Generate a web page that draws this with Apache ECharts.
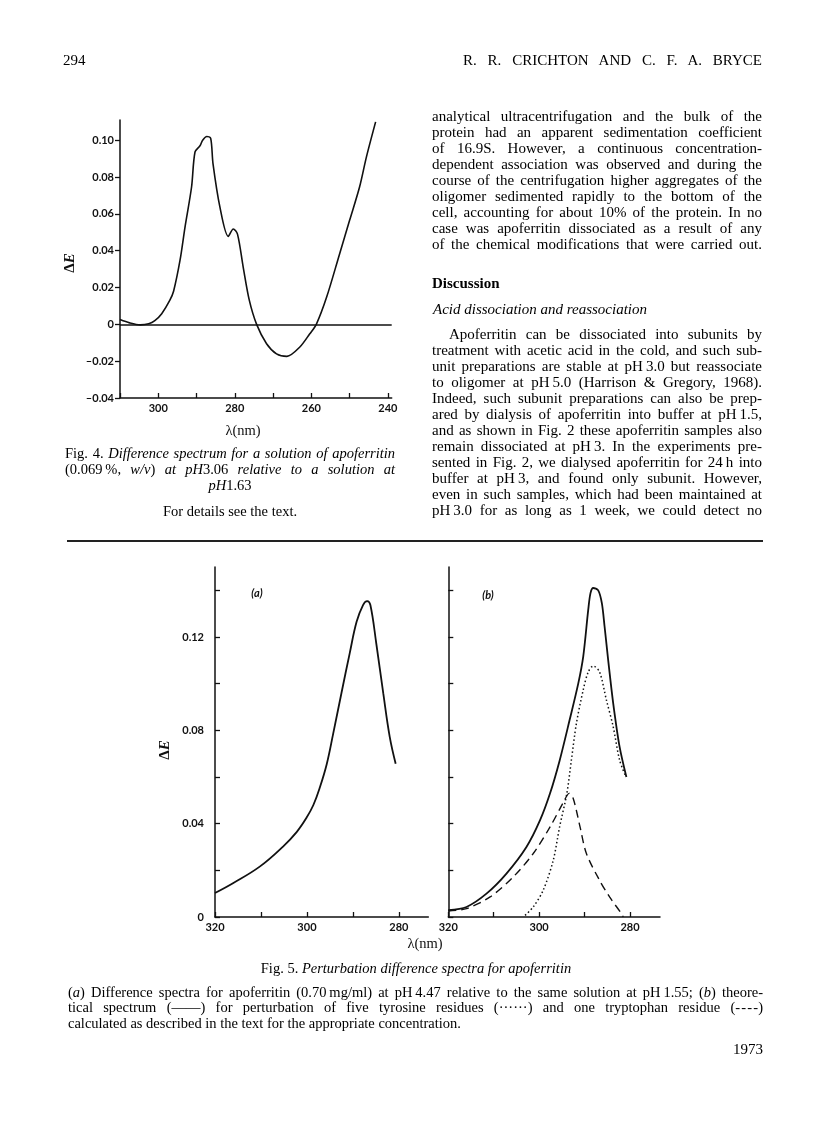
<!DOCTYPE html>
<html>
<head>
<meta charset="utf-8">
<script src="https://cdn.jsdelivr.net/npm/echarts/dist/echarts.min.js"></script>
<style>
  html, body { margin: 0; padding: 0; background: #fff; }
  #page { position: relative; width: 816px; height: 1136px; overflow: hidden; }
  #chart { position: absolute; left: 0; top: 0; width: 816px; height: 1136px; }
  .ln { position: absolute; font-family: "Liberation Serif", serif; font-size: 15px; line-height: 16px; height: 16px; color: #000; z-index: 2; }
  .j { text-align: justify; text-align-last: justify; }
  .c { text-align: center; }
  .cap { font-size: 14.5px; }
  .small { font-size: 14.5px; line-height: 15.5px; height: 15.5px; }
  i { font-style: italic; }
  #rule { position: absolute; left: 67px; top: 540px; width: 696px; height: 1.5px; background: #222; z-index: 2; }
</style>
</head>
<body>
<div id="page">
  <div id="chart"></div>

  <div class="ln" style="left:63px;top:52px">294</div>
  <div class="ln j" style="left:463px;top:52px;width:299px">R. R. CRICHTON AND C. F. A. BRYCE</div>

  <!-- right column, first paragraph -->
  <div class="ln j" style="left:432px;top:107.5px;width:330px">analytical ultracentrifugation and the bulk of the</div>
  <div class="ln j" style="left:432px;top:123.5px;width:330px">protein had an apparent sedimentation coefficient</div>
  <div class="ln j" style="left:432px;top:139.5px;width:330px">of 16.9S. However, a continuous concentration-</div>
  <div class="ln j" style="left:432px;top:155.5px;width:330px">dependent association was observed and during the</div>
  <div class="ln j" style="left:432px;top:171.5px;width:330px">course of the centrifugation higher aggregates of the</div>
  <div class="ln j" style="left:432px;top:187.5px;width:330px">oligomer sedimented rapidly to the bottom of the</div>
  <div class="ln j" style="left:432px;top:203.5px;width:330px">cell, accounting for about 10% of the protein. In no</div>
  <div class="ln j" style="left:432px;top:219.5px;width:330px">case was apoferritin dissociated as a result of any</div>
  <div class="ln j" style="left:432px;top:235.5px;width:330px">of the chemical modifications that were carried out.</div>

  <div class="ln" style="left:432px;top:275px;font-weight:bold">Discussion</div>
  <div class="ln" style="left:433px;top:301px"><i>Acid dissociation and reassociation</i></div>

  <div class="ln j" style="left:449px;top:326px;width:313px">Apoferritin can be dissociated into subunits by</div>
  <div class="ln j" style="left:432px;top:342px;width:330px">treatment with acetic acid in the cold, and such sub-</div>
  <div class="ln j" style="left:432px;top:358px;width:330px">unit preparations are stable at pH&#8201;3.0 but reassociate</div>
  <div class="ln j" style="left:432px;top:374px;width:330px">to oligomer at pH&#8201;5.0 (Harrison &amp; Gregory, 1968).</div>
  <div class="ln j" style="left:432px;top:390px;width:330px">Indeed, such subunit preparations can also be prep-</div>
  <div class="ln j" style="left:432px;top:406px;width:330px">ared by dialysis of apoferritin into buffer at pH&#8201;1.5,</div>
  <div class="ln j" style="left:432px;top:422px;width:330px">and as shown in Fig. 2 these apoferritin samples also</div>
  <div class="ln j" style="left:432px;top:438px;width:330px">remain dissociated at pH&#8201;3. In the experiments pre-</div>
  <div class="ln j" style="left:432px;top:454px;width:330px">sented in Fig. 2, we dialysed apoferritin for 24&#8201;h into</div>
  <div class="ln j" style="left:432px;top:470px;width:330px">buffer at pH&#8201;3, and found only subunit. However,</div>
  <div class="ln j" style="left:432px;top:486px;width:330px">even in such samples, which had been maintained at</div>
  <div class="ln j" style="left:432px;top:502px;width:330px">pH&#8201;3.0 for as long as 1 week, we could detect no</div>

  <!-- Fig. 4 caption -->
  <div class="ln j cap" style="left:65px;top:445px;width:330px">Fig. 4. <i>Difference spectrum for a solution of apoferritin</i></div>
  <div class="ln j cap" style="left:65px;top:461px;width:330px">(0.069&#8201;%, <i>w/v</i>) <i>at pH</i>3.06 <i>relative to a solution at</i></div>
  <div class="ln c cap" style="left:65px;top:477px;width:330px"><i>pH</i>1.63</div>
  <div class="ln c cap" style="left:65px;top:502.5px;width:330px">For details see the text.</div>

  <div id="rule"></div>

  <!-- Fig. 5 caption -->
  <div class="ln c cap" style="left:66px;top:959.5px;width:700px">Fig. 5. <i>Perturbation difference spectra for apoferritin</i></div>
  <div class="ln j small" style="left:68px;top:984.5px;width:695px">(<i>a</i>) Difference spectra for apoferritin (0.70&#8201;mg/ml) at pH&#8201;4.47 relative to the same solution at pH&#8201;1.55; (<i>b</i>) theore-</div>
  <div class="ln j small" style="left:68px;top:1000px;width:695px">tical spectrum (&#8212;&#8212;) for perturbation of five tyrosine residues (&#183;&#183;&#183;&#183;&#183;&#183;) and one tryptophan residue (-&#8202;-&#8202;-&#8202;-)</div>
  <div class="ln small" style="left:68px;top:1015.5px;width:695px">calculated as described in the text for the appropriate concentration.</div>

  <div class="ln" style="left:663px;top:1041px;width:100px;text-align:right">1973</div>
</div>

<script>
// Fig. 4: difference spectrum pH 3.06 vs pH 1.63
var fig4Wavelength = [310, 307.5, 304.7, 302.5, 300.9, 299.1, 297, 296, 294.3, 293, 291.3, 290.4, 289.1, 288.4, 287.3, 286.3, 285.7, 283.9, 281.7, 280.4, 279.3, 277.8, 276.2, 274.3, 271.7, 269.1, 266.4, 263, 260.4, 258.7, 256, 252.6, 250, 247.4, 245.6, 243.2]
var fig4DeltaE = [0.0026, 0.0008, -0.0003, 0.0003, 0.002, 0.0058, 0.013, 0.018, 0.035, 0.053, 0.0746, 0.0936, 0.097, 0.1, 0.102, 0.101, 0.0873, 0.0638, 0.0478, 0.0518, 0.049, 0.031, 0.013, 0, -0.0105, -0.016, -0.0174, -0.0123, -0.0051, 0, 0.0148, 0.0384, 0.0565, 0.0746, 0.091, 0.11]

// Fig. 5(a): measured spectrum
var fig5aWavelength = [320, 316, 310.2, 305.2, 302.2, 300.1, 298.6, 297.2, 295.7, 294.3, 292.5, 290.7, 289.2, 287.8, 286.9, 286.2, 284.9, 283.4, 282, 280.7]
var fig5aDeltaE = [0.0103, 0.0146, 0.0217, 0.0302, 0.0365, 0.0425, 0.048, 0.0555, 0.0655, 0.0785, 0.0959, 0.113, 0.1265, 0.1337, 0.1354, 0.1337, 0.117, 0.0959, 0.0773, 0.0657]

// Fig. 5(b): theoretical total, tyrosine (dotted), tryptophan (dashed)
var fig5bTotalWavelength = [320, 316, 311.6, 307.2, 302.8, 299.8, 297.6, 295.5, 293.3, 291.4, 290.3, 289.2, 288.7, 288.1, 287, 286.2, 285.6, 284.8, 283.7, 282.3, 280.8]
var fig5bTotalDeltaE = [0.0029, 0.0043, 0.01, 0.0186, 0.03, 0.0415, 0.053, 0.067, 0.0844, 0.1, 0.1116, 0.1316, 0.1388, 0.141, 0.14, 0.1345, 0.1245, 0.11, 0.0916, 0.073, 0.06]
var fig5bTyrWavelength = [303.1, 301.3, 299.1, 296.9, 295.5, 293.9, 292.9, 291.8, 290.3, 289.2, 288.1, 286.7, 285.2, 283.7, 282.3, 280.9]
var fig5bTyrDeltaE = [0.0007, 0.0043, 0.0115, 0.0243, 0.0386, 0.053, 0.0673, 0.083, 0.0973, 0.105, 0.1076, 0.105, 0.093, 0.0815, 0.0673, 0.06]
var fig5bTrpWavelength = [320, 316, 310.8, 305.7, 301.3, 297.6, 294.7, 293.4, 292.5, 291, 289.6, 286.7, 284.5, 281.9, 281.5]
var fig5bTrpDeltaE = [0.0026, 0.0036, 0.0086, 0.0172, 0.0272, 0.0386, 0.049, 0.053, 0.0508, 0.0386, 0.0272, 0.0157, 0.0086, 0.0015, 0]

// ticks / labels
var fig4XTicks = [240, 250, 260, 270, 280, 290, 300, 310]
var fig4XLabels = [240, 260, 280, 300]
var fig4YTicks = [-0.04, -0.02, 0, 0.02, 0.04, 0.06, 0.08, 0.10]
var fig5XTicks = [280, 290, 300, 310, 320]
var fig5XLabels = [280, 300, 320]
var fig5YTicks = [0, 0.02, 0.04, 0.06, 0.08, 0.10, 0.12, 0.14]
var fig5YLabels = [0, 0.04, 0.08, 0.12]

var ink = '#111'
var labelFont = { color: ink, fontFamily: 'Lato', fontWeight: 'bold', fontSize: 11 }

function pairs(xs, ys) {
    return xs.map(function (x, i) { return [x, ys[i]] })
}

function fmtY(v) {
    if (Math.abs(v) < 1e-9) return '0'
    var s = Math.abs(v).toFixed(2)
    return v < 0 ? '\u2013' + s : s
}

function xAxisOf(grid, min, max, ticks, labels) {
    return {
        type: 'value', gridIndex: grid, inverse: true, min: min, max: max,
        axisLine: { onZero: false, lineStyle: { color: ink, width: 1.5 } },
        axisTick: { inside: true, length: 5, customValues: ticks, lineStyle: { color: ink, width: 1.3 } },
        axisLabel: Object.assign({ customValues: labels, margin: 5 }, labelFont),
        splitLine: { show: false }
    }
}

var chart = echarts.init(document.getElementById('chart'), null, { renderer: 'canvas' })

var option = {
    animation: false,
    backgroundColor: '#fff',
    grid: [
        { left: 120, top: 120, width: 271.7, height: 278 },
        { left: 215, top: 567, width: 213.3, height: 350 },
        { left: 448.3, top: 567, width: 211.7, height: 350 }
    ],
    xAxis: [
        xAxisOf(0, 239, 310, fig4XTicks, fig4XLabels),
        xAxisOf(1, 273.6, 320, fig5XTicks, fig5XLabels),
        xAxisOf(2, 273.4, 320, fig5XTicks, fig5XLabels)
    ],
    yAxis: [{
        type: 'value', gridIndex: 0, min: -0.04, max: 0.111,
        axisLine: { show: true, onZero: false, lineStyle: { color: ink, width: 1.5 } },
        axisTick: { show: true, inside: false, length: 5, customValues: fig4YTicks, lineStyle: { color: ink, width: 1.3 } },
        axisLabel: Object.assign({ customValues: fig4YTicks, margin: 6, formatter: fmtY }, labelFont),
        splitLine: { show: false }
    }, {
        type: 'value', gridIndex: 1, min: 0, max: 0.15,
        axisLine: { show: true, onZero: false, lineStyle: { color: ink, width: 1.5 } },
        axisTick: { show: true, inside: true, length: 5, customValues: fig5YTicks, lineStyle: { color: ink, width: 1.3 } },
        axisLabel: Object.assign({ customValues: fig5YLabels, margin: 11, formatter: fmtY }, labelFont),
        splitLine: { show: false }
    }, {
        type: 'value', gridIndex: 2, min: 0, max: 0.15,
        axisLine: { show: true, onZero: false, lineStyle: { color: ink, width: 1.5 } },
        axisTick: { show: true, inside: true, length: 5, customValues: fig5YTicks, lineStyle: { color: ink, width: 1.3 } },
        axisLabel: { show: false },
        splitLine: { show: false }
    }],
    series: [{
        type: 'line', xAxisIndex: 0, yAxisIndex: 0,
        data: pairs(fig4Wavelength, fig4DeltaE),
        smooth: 0.3, showSymbol: false,
        lineStyle: { color: ink, width: 1.6 },
        markLine: {
            silent: true, symbol: 'none', label: { show: false },
            lineStyle: { color: ink, width: 1.5, type: 'solid' },
            data: [{ yAxis: 0 }]
        }
    }, {
        type: 'line', xAxisIndex: 1, yAxisIndex: 1,
        data: pairs(fig5aWavelength, fig5aDeltaE),
        smooth: 0.4, showSymbol: false,
        lineStyle: { color: ink, width: 1.8 }
    }, {
        type: 'line', xAxisIndex: 2, yAxisIndex: 2,
        data: pairs(fig5bTotalWavelength, fig5bTotalDeltaE),
        smooth: 0.3, showSymbol: false,
        lineStyle: { color: ink, width: 1.8 }
    }, {
        type: 'line', xAxisIndex: 2, yAxisIndex: 2,
        data: pairs(fig5bTyrWavelength, fig5bTyrDeltaE),
        smooth: 0.3, showSymbol: false,
        lineStyle: { color: ink, width: 1.5, type: [1.5, 2.5] }
    }, {
        type: 'line', xAxisIndex: 2, yAxisIndex: 2,
        data: pairs(fig5bTrpWavelength, fig5bTrpDeltaE),
        smooth: 0.3, showSymbol: false,
        lineStyle: { color: ink, width: 1.4, type: [8, 5] }
    }],
    graphic: [
        { type: 'text', x: 70, y: 263, rotation: Math.PI / 2,
          style: { text: '{d|\u0394}{e|E}', align: 'center', verticalAlign: 'middle', fill: ink,
                   rich: { d: { font: 'bold 15px "Liberation Serif"', fill: ink }, e: { font: 'bold italic 15px "Liberation Serif"', fill: ink } } } },
        { type: 'text', x: 165, y: 750, rotation: Math.PI / 2,
          style: { text: '{d|\u0394}{e|E}', align: 'center', verticalAlign: 'middle', fill: ink,
                   rich: { d: { font: 'bold 15px "Liberation Serif"', fill: ink }, e: { font: 'bold italic 15px "Liberation Serif"', fill: ink } } } },
        { type: 'text', x: 243, y: 431,
          style: { text: '\u03bb(nm)', font: '14.5px "Liberation Serif"', fill: ink, align: 'center', verticalAlign: 'middle' } },
        { type: 'text', x: 425, y: 944,
          style: { text: '\u03bb(nm)', font: '14.5px "Liberation Serif"', fill: ink, align: 'center', verticalAlign: 'middle' } },
        { type: 'text', x: 257, y: 593,
          style: { text: '(a)', font: 'italic bold 11px Lato', fill: ink, align: 'center', verticalAlign: 'middle' } },
        { type: 'text', x: 488, y: 595,
          style: { text: '(b)', font: 'italic bold 11px Lato', fill: ink, align: 'center', verticalAlign: 'middle' } }
    ]
}

chart.setOption(option)
</script>
</body>
</html>
